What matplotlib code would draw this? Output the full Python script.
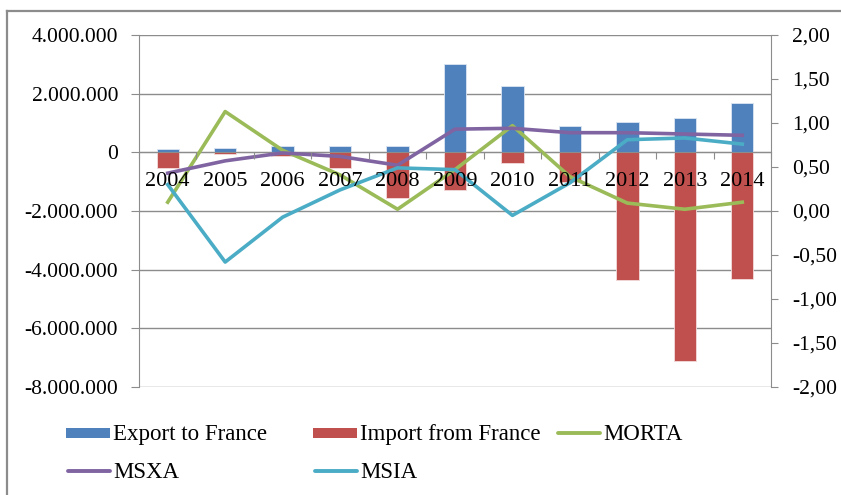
import numpy as np
import matplotlib
matplotlib.use("Agg")
import matplotlib.pyplot as plt
from matplotlib.ticker import FuncFormatter, FixedLocator
from matplotlib.patches import Rectangle
from matplotlib.lines import Line2D

plt.rcParams['font.family'] = ['Liberation Serif', 'DejaVu Serif']

years = ["2004", "2005", "2006", "2007", "2008", "2009", "2010", "2011", "2012", "2013", "2014"]
export_fr = [100000, 150000, 220000, 200000, 220000, 3000000, 2250000, 890000, 1020000, 1160000, 1670000]
import_fr = [-550000, -50000, -130000, -550000, -1570000, -1290000, -370000, -1020000, -4360000, -7120000, -4330000]
morta = [0.10, 1.13, 0.69, 0.41, 0.02, 0.47, 0.97, 0.39, 0.09, 0.02, 0.10]
msxa = [0.43, 0.57, 0.66, 0.62, 0.52, 0.93, 0.94, 0.89, 0.89, 0.875, 0.86]
msia = [0.30, -0.58, -0.07, 0.24, 0.49, 0.47, -0.05, 0.32, 0.81, 0.83, 0.76]

blue, red, green, purple, aqua = "#4F81BD", "#C0504D", "#9BBB59", "#8064A2", "#4BACC6"
grid_c = "#8C8C8C"
fs = 15.5

W, H = 841, 495
fig = plt.figure(figsize=(W / 100, H / 100), dpi=100)
ax = fig.add_axes([139 / W, 1 - 387 / H, (771 - 139) / W, (387 - 35) / H])

x = np.arange(len(years))
ax.bar(x, export_fr, width=0.39, color=blue, edgecolor="#DCE6F2", linewidth=0.6, zorder=2)
ax.bar(x, import_fr, width=0.39, color=red, edgecolor="#F2DCDB", linewidth=0.6, zorder=2)

ax.set_xlim(-0.5, len(years) - 0.5)
ax.set_ylim(-8000000, 4000000)
ax.set_yticks(np.arange(-8000000, 4000001, 2000000))
ax.yaxis.set_major_formatter(FuncFormatter(lambda v, p: f"{int(v):,}".replace(",", ".")))
ax.grid(axis="y", color=grid_c, linewidth=1.0, zorder=0)
ax.set_axisbelow(True)

# zero line of the value axis is the category axis
ax.spines['bottom'].set_position(('data', 0))
ax.spines['top'].set_visible(False)
ax.spines['right'].set_visible(False)
for s in ['left', 'bottom']:
    ax.spines[s].set_color(grid_c)
ax.xaxis.set_major_locator(FixedLocator(np.arange(-0.5, len(years), 1.0)))
ax.xaxis.set_minor_locator(FixedLocator(x))
ax.xaxis.set_major_formatter(FuncFormatter(lambda v, p: ""))
ax.xaxis.set_minor_formatter(FuncFormatter(lambda v, p: years[int(round(v))]))
ax.tick_params(axis="x", which="both", bottom=False, labelbottom=False)
ax.tick_params(axis="y", direction="out", length=6, color=grid_c, pad=9, labelsize=fs)

ax2 = ax.twinx()
ax2.plot(x, morta, color=green, linewidth=2.6, solid_joinstyle="round", zorder=3)
ax2.plot(x, msxa, color=purple, linewidth=2.6, solid_joinstyle="round", zorder=3)
ax2.plot(x, msia, color=aqua, linewidth=2.6, solid_joinstyle="round", zorder=3)
ax2.set_ylim(-2, 2)
ax2.set_yticks(np.arange(-2, 2.01, 0.5))
ax2.yaxis.set_major_formatter(FuncFormatter(lambda v, p: f"{v:.2f}".replace(".", ",")))
ax2.tick_params(axis="y", direction="out", length=5, color=grid_c, pad=10, labelsize=fs)
for s in ['top', 'left', 'bottom']:
    ax2.spines[s].set_visible(False)
ax2.spines['right'].set_color(grid_c)

# category labels on top of bars and lines
ax2.xaxis.set_visible(True)
ax2.spines['bottom'].set_position(('axes', 8 / 12))
ax2.xaxis.set_zorder(5)
ax2.tick_params(axis="x", which="major", bottom=True, direction="out", length=5, color=grid_c)
ax2.tick_params(axis="x", which="minor", bottom=True, labelbottom=True, length=0, pad=14, labelsize=16)

# outer chart border (cropped at right and bottom)
fig.add_artist(Line2D([7 / W, 7 / W], [0, 1 - 11 / H], color="#8C8C8C", linewidth=1.6))
fig.add_artist(Line2D([7 / W, 1], [1 - 11 / H, 1 - 11 / H], color="#8C8C8C", linewidth=1.6))

# legend in fixed-width columns like the spreadsheet
entries = [("Export to France", "bar", blue), ("Import from France", "bar", red),
           ("MORTA", "line", green), ("MSXA", "line", purple), ("MSIA", "line", aqua)]
col_x = [66, 313, 556]
row_y = [433, 471]
for i, (label, kind, c) in enumerate(entries):
    px = col_x[i % 3]
    py = row_y[i // 3]
    if kind == "bar":
        fig.add_artist(Rectangle((px / W, 1 - (py + 5) / H), 44 / W, 10 / H,
                                 transform=fig.transFigure, facecolor=c, edgecolor="none"))
    else:
        fig.add_artist(Line2D([(px + 2) / W, (px + 44) / W], [1 - py / H, 1 - py / H],
                              color=c, linewidth=2.8, solid_capstyle="round"))
    fig.text((px + 47) / W, 1 - (py + 7) / H, label, fontsize=16.5, va="baseline", ha="left")

fig.savefig("out.png", dpi=100)
